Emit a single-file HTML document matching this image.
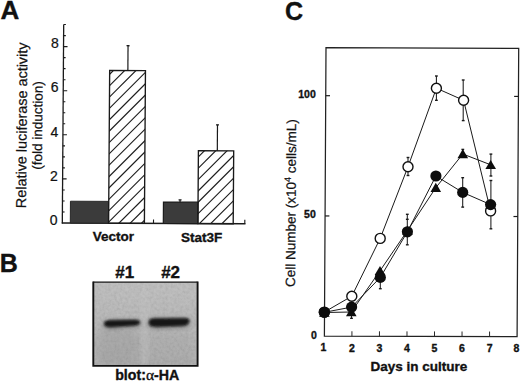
<!DOCTYPE html>
<html><head><meta charset="utf-8"><style>
html,body{margin:0;padding:0;background:#fff;width:520px;height:382px;overflow:hidden}
svg{display:block}
text{font-family:"Liberation Sans", sans-serif;fill:#111;stroke:#111;stroke-width:0.22px}
text[font-weight="bold"]{stroke-width:0.35px}
</style></head><body>
<svg width="520" height="382" viewBox="0 0 520 382">
<rect width="520" height="382" fill="#fff"/>
<line x1="63.69" y1="24.55" x2="62.3" y2="223.5" stroke="#1a1a1a" stroke-width="1.3"/>
<line x1="61.8" y1="223" x2="245.5" y2="223.77" stroke="#1a1a1a" stroke-width="1.4"/>
<line x1="62.38" y1="211.98" x2="64.58" y2="211.98" stroke="#1a1a1a" stroke-width="1.1"/>
<line x1="62.45" y1="200.95" x2="64.65" y2="200.96" stroke="#1a1a1a" stroke-width="1.1"/>
<line x1="62.53" y1="189.93" x2="64.73" y2="189.94" stroke="#1a1a1a" stroke-width="1.1"/>
<line x1="62.61" y1="178.9" x2="66.61" y2="178.92" stroke="#1a1a1a" stroke-width="1.1"/>
<line x1="62.68" y1="167.88" x2="64.88" y2="167.89" stroke="#1a1a1a" stroke-width="1.1"/>
<line x1="62.76" y1="156.85" x2="64.96" y2="156.86" stroke="#1a1a1a" stroke-width="1.1"/>
<line x1="62.84" y1="145.83" x2="65.04" y2="145.84" stroke="#1a1a1a" stroke-width="1.1"/>
<line x1="62.92" y1="134.8" x2="66.92" y2="134.82" stroke="#1a1a1a" stroke-width="1.1"/>
<line x1="62.99" y1="123.78" x2="65.19" y2="123.79" stroke="#1a1a1a" stroke-width="1.1"/>
<line x1="63.07" y1="112.75" x2="65.27" y2="112.76" stroke="#1a1a1a" stroke-width="1.1"/>
<line x1="63.15" y1="101.73" x2="65.35" y2="101.74" stroke="#1a1a1a" stroke-width="1.1"/>
<line x1="63.22" y1="90.7" x2="67.22" y2="90.72" stroke="#1a1a1a" stroke-width="1.1"/>
<line x1="63.3" y1="79.68" x2="65.5" y2="79.69" stroke="#1a1a1a" stroke-width="1.1"/>
<line x1="63.38" y1="68.65" x2="65.58" y2="68.66" stroke="#1a1a1a" stroke-width="1.1"/>
<line x1="63.45" y1="57.63" x2="65.65" y2="57.64" stroke="#1a1a1a" stroke-width="1.1"/>
<line x1="63.53" y1="46.6" x2="67.53" y2="46.62" stroke="#1a1a1a" stroke-width="1.1"/>
<line x1="63.61" y1="35.58" x2="65.81" y2="35.59" stroke="#1a1a1a" stroke-width="1.1"/>
<line x1="63.69" y1="24.55" x2="65.89" y2="24.56" stroke="#1a1a1a" stroke-width="1.1"/>
<line x1="153.5" y1="223.38" x2="153.53" y2="219.38" stroke="#1a1a1a" stroke-width="1.1"/>
<line x1="244.8" y1="223.76" x2="244.82" y2="219.76" stroke="#1a1a1a" stroke-width="1.1"/>
<text x="57.59" y="224.78" font-size="14" text-anchor="end">0</text>
<text x="57.9" y="180.68" font-size="14" text-anchor="end">2</text>
<text x="58.2" y="136.58" font-size="14" text-anchor="end">4</text>
<text x="58.51" y="92.48" font-size="14" text-anchor="end">6</text>
<text x="58.82" y="48.38" font-size="14" text-anchor="end">8</text>
<polygon points="70.45,201.23 108.55,201.39 108.4,223.19 70.3,223.03" fill="#3b3b3b" stroke="#262626" stroke-width="1"/>
<polygon points="163.45,202.02 198.05,202.17 197.9,223.57 163.3,223.42" fill="#3b3b3b" stroke="#1a1a1a" stroke-width="1.2"/>
<clipPath id="h1"><polygon points="109.67,70.4 145.46,70.55 144.4,223.34 108.6,223.19" /></clipPath>
<g clip-path="url(#h1)" stroke="#1a1a1a" stroke-width="1.15">
<line x1="131.3" y1="30" x2="-78.7" y2="240" />
<line x1="142.6" y1="30" x2="-67.4" y2="240" />
<line x1="153.9" y1="30" x2="-56.1" y2="240" />
<line x1="165.2" y1="30" x2="-44.8" y2="240" />
<line x1="176.5" y1="30" x2="-33.5" y2="240" />
<line x1="187.8" y1="30" x2="-22.2" y2="240" />
<line x1="199.1" y1="30" x2="-10.9" y2="240" />
<line x1="210.4" y1="30" x2="0.4" y2="240" />
<line x1="221.7" y1="30" x2="11.7" y2="240" />
<line x1="233" y1="30" x2="23" y2="240" />
<line x1="244.3" y1="30" x2="34.3" y2="240" />
<line x1="255.6" y1="30" x2="45.6" y2="240" />
<line x1="266.9" y1="30" x2="56.9" y2="240" />
<line x1="278.2" y1="30" x2="68.2" y2="240" />
<line x1="289.5" y1="30" x2="79.5" y2="240" />
<line x1="300.8" y1="30" x2="90.8" y2="240" />
<line x1="312.1" y1="30" x2="102.1" y2="240" />
<line x1="323.4" y1="30" x2="113.4" y2="240" />
<line x1="334.7" y1="30" x2="124.7" y2="240" />
<line x1="346" y1="30" x2="136" y2="240" />
<line x1="357.3" y1="30" x2="147.3" y2="240" />
</g>
<polygon points="109.67,70.4 145.46,70.55 144.4,223.34 108.6,223.19" fill="none" stroke="#1a1a1a" stroke-width="1.35"/>
<clipPath id="h2"><polygon points="198.41,150.67 233.7,150.82 233.2,223.72 197.9,223.57" /></clipPath>
<g clip-path="url(#h2)" stroke="#1a1a1a" stroke-width="1.15">
<line x1="302.6" y1="30" x2="92.6" y2="240" />
<line x1="313.9" y1="30" x2="103.9" y2="240" />
<line x1="325.2" y1="30" x2="115.2" y2="240" />
<line x1="336.5" y1="30" x2="126.5" y2="240" />
<line x1="347.8" y1="30" x2="137.8" y2="240" />
<line x1="359.1" y1="30" x2="149.1" y2="240" />
<line x1="370.4" y1="30" x2="160.4" y2="240" />
<line x1="381.7" y1="30" x2="171.7" y2="240" />
<line x1="393" y1="30" x2="183" y2="240" />
<line x1="404.3" y1="30" x2="194.3" y2="240" />
<line x1="415.6" y1="30" x2="205.6" y2="240" />
<line x1="426.9" y1="30" x2="216.9" y2="240" />
<line x1="438.2" y1="30" x2="228.2" y2="240" />
</g>
<polygon points="198.41,150.67 233.7,150.82 233.2,223.72 197.9,223.57" fill="none" stroke="#1a1a1a" stroke-width="1.35"/>
<line x1="127.87" y1="70.47" x2="128.04" y2="45.67" stroke="#1a1a1a" stroke-width="1.2"/>
<line x1="126.54" y1="45.67" x2="129.54" y2="45.68" stroke="#1a1a1a" stroke-width="1.4"/>
<line x1="217.31" y1="150.75" x2="217.49" y2="124.85" stroke="#1a1a1a" stroke-width="1.2"/>
<line x1="215.99" y1="124.84" x2="218.99" y2="124.86" stroke="#1a1a1a" stroke-width="1.4"/>
<line x1="180.05" y1="202.19" x2="180.06" y2="199.89" stroke="#1a1a1a" stroke-width="1.2"/>
<line x1="178.56" y1="199.89" x2="181.56" y2="199.9" stroke="#1a1a1a" stroke-width="1.4"/>
<text transform="translate(26.7,125.35) rotate(-89.5)" font-size="14.4" text-anchor="middle">Relative luciferase activity</text>
<text transform="translate(42.2,125.5) rotate(-89.5)" font-size="13.5" text-anchor="middle">(fold induction)</text>
<text x="113.3" y="241.3" font-size="13.5" font-weight="bold" text-anchor="middle">Vector</text>
<text x="201.7" y="241.7" font-size="13.5" font-weight="bold" text-anchor="middle">Stat3F</text>
<text transform="translate(0.5,18.5) scale(1.04,1)" font-size="25" font-weight="bold">A</text>
<text x="-0.3" y="272.1" font-size="25" font-weight="bold">B</text>
<text x="285.1" y="19.6" font-size="25" font-weight="bold">C</text>
<text x="124.8" y="277.9" font-size="17" font-weight="bold" text-anchor="middle" stroke="#111" stroke-width="0.35">#1</text>
<text x="170.6" y="277.9" font-size="17" font-weight="bold" text-anchor="middle" stroke="#111" stroke-width="0.35">#2</text>
<defs>
<linearGradient id="blotbg" x1="0" y1="0" x2="0" y2="1">
<stop offset="0" stop-color="#bcbcbc"/><stop offset="0.45" stop-color="#b4b4b4"/><stop offset="1" stop-color="#aaaaaa"/>
</linearGradient>
<filter id="blur1" x="-20%" y="-50%" width="140%" height="200%"><feGaussianBlur stdDeviation="1.0 0.9"/></filter>
<filter id="blur2" x="-20%" y="-80%" width="140%" height="260%"><feGaussianBlur stdDeviation="1.6 1.4"/></filter>
<filter id="blur3" x="-30%" y="-100%" width="160%" height="300%"><feGaussianBlur stdDeviation="2.6 2.2"/></filter>
<filter id="noise" x="0" y="0" width="100%" height="100%">
<feTurbulence type="fractalNoise" baseFrequency="0.35" numOctaves="2" seed="3" result="t"/>
<feColorMatrix type="matrix" values="1 0 0 0 0  1 0 0 0 0  1 0 0 0 0  0 0 0 0 1" />
</filter>
</defs>
<clipPath id="blotclip"><rect x="93.3" y="282.3" width="104.2" height="83.5"/></clipPath>
<g clip-path="url(#blotclip)">
<rect x="93.3" y="282.3" width="104.2" height="83.5" fill="url(#blotbg)"/>
<rect x="93.3" y="282.3" width="104.2" height="83.5" filter="url(#noise)" opacity="0.13"/>
<rect x="140.5" y="290" width="8" height="74" fill="#c8c8c8" opacity="0.25" filter="url(#blur2)"/>
<ellipse cx="115" cy="345" rx="22" ry="16" fill="#9a9a9a" opacity="0.18" filter="url(#blur3)"/>
<rect x="101" y="331" width="40" height="40" fill="#8a8a8a" opacity="0.14" filter="url(#blur3)"/>
<rect x="149" y="333" width="42" height="40" fill="#8a8a8a" opacity="0.10" filter="url(#blur3)"/>
<g filter="url(#blur3)" opacity="0.5">
<path d="M104.5,323.8 C104.5,321.3 107,320.7 112,320.6 L134,320.2 C138,320.1 139.8,320.8 139.6,322.3 C139.4,324 137.5,324.9 134,325.3 L112,326.7 C107,327 104.5,326.3 104.5,323.8 Z" fill="#666" stroke="#666" stroke-width="3" transform="translate(0,1.3)"/>
<path d="M149.2,322.3 C149.2,319.5 151,318.9 156,318.8 L183,318.6 C187.5,318.6 189,319.2 188.9,320.8 C188.8,323.6 187,325.0 183,325.5 L157,326.4 C151,326.5 149.2,325.5 149.2,322.3 Z" fill="#666" stroke="#666" stroke-width="3" transform="translate(0,1.3)"/>
</g>
<g filter="url(#blur2)" opacity="0.6">
<path d="M104.5,323.8 C104.5,321.3 107,320.7 112,320.6 L134,320.2 C138,320.1 139.8,320.8 139.6,322.3 C139.4,324 137.5,324.9 134,325.3 L112,326.7 C107,327 104.5,326.3 104.5,323.8 Z" fill="#444" stroke="#444" stroke-width="1.5"/>
<path d="M149.2,322.3 C149.2,319.5 151,318.9 156,318.8 L183,318.6 C187.5,318.6 189,319.2 188.9,320.8 C188.8,323.6 187,325.0 183,325.5 L157,326.4 C151,326.5 149.2,325.5 149.2,322.3 Z" fill="#444" stroke="#444" stroke-width="1.5"/>
</g>
<g filter="url(#blur1)">
<path d="M104.5,323.8 C104.5,321.3 107,320.7 112,320.6 L134,320.2 C138,320.1 139.8,320.8 139.6,322.3 C139.4,324 137.5,324.9 134,325.3 L112,326.7 C107,327 104.5,326.3 104.5,323.8 Z" fill="#161616"/>
<path d="M149.2,322.3 C149.2,319.5 151,318.9 156,318.8 L183,318.6 C187.5,318.6 189,319.2 188.9,320.8 C188.8,323.6 187,325.0 183,325.5 L157,326.4 C151,326.5 149.2,325.5 149.2,322.3 Z" fill="#121212"/>
</g>
</g>
<path d="M93.3,282.1 L197.5,282.1" stroke="#111" stroke-width="1.4" fill="none"/>
<path d="M93.3,281.6 L93.3,365.9 L197.6,365.9 L197.6,281.6" stroke="#111" stroke-width="1.9" fill="none"/>
<text x="147.2" y="380.2" font-size="14.2" font-weight="bold" text-anchor="middle">blot:<tspan font-family="Liberation Serif" font-weight="normal" font-size="15.5">α</tspan>-HA</text>
<polygon points="326,47.6 518.7,48.4 517.1,336.6 324.4,336.2" fill="none" stroke="#222" stroke-width="1.25"/>
<line x1="325.07" y1="215.95" x2="329.37" y2="215.95" stroke="#1a1a1a" stroke-width="1.2"/>
<line x1="517.77" y1="216.52" x2="513.47" y2="216.52" stroke="#1a1a1a" stroke-width="1.2"/>
<line x1="325.73" y1="95.7" x2="330.03" y2="95.7" stroke="#1a1a1a" stroke-width="1.2"/>
<line x1="518.43" y1="96.43" x2="514.13" y2="96.43" stroke="#1a1a1a" stroke-width="1.2"/>
<line x1="351.93" y1="336.26" x2="351.93" y2="331.26" stroke="#2a2a2a" stroke-width="1.0"/>
<text x="351.93" y="351.6" font-size="10.5" font-weight="bold" text-anchor="middle">2</text>
<line x1="379.46" y1="336.31" x2="379.46" y2="331.31" stroke="#2a2a2a" stroke-width="1.0"/>
<text x="379.46" y="351.6" font-size="10.5" font-weight="bold" text-anchor="middle">3</text>
<line x1="406.99" y1="336.37" x2="406.99" y2="331.37" stroke="#2a2a2a" stroke-width="1.0"/>
<text x="406.99" y="351.6" font-size="10.5" font-weight="bold" text-anchor="middle">4</text>
<line x1="434.51" y1="336.43" x2="434.51" y2="331.43" stroke="#2a2a2a" stroke-width="1.0"/>
<text x="434.51" y="351.6" font-size="10.5" font-weight="bold" text-anchor="middle">5</text>
<line x1="462.04" y1="336.49" x2="462.04" y2="331.49" stroke="#2a2a2a" stroke-width="1.0"/>
<text x="462.04" y="351.6" font-size="10.5" font-weight="bold" text-anchor="middle">6</text>
<line x1="489.57" y1="336.54" x2="489.57" y2="331.54" stroke="#2a2a2a" stroke-width="1.0"/>
<text x="489.57" y="351.6" font-size="10.5" font-weight="bold" text-anchor="middle">7</text>
<text x="323.3" y="351.4" font-size="10.5" font-weight="bold" text-anchor="middle">1</text>
<text x="516.3" y="351.8" font-size="10.5" font-weight="bold" text-anchor="middle">8</text>
<text x="315.8" y="97.8" font-size="10.5" font-weight="bold" text-anchor="end">100</text>
<text x="315.8" y="218.2" font-size="10.5" font-weight="bold" text-anchor="end">50</text>
<text x="316.8" y="338.9" font-size="10.5" font-weight="bold" text-anchor="end">0</text>
<text transform="translate(295.6,203.2) rotate(-89.6)" font-size="13.5" text-anchor="middle">Cell Number (x10<tspan font-size="9" dy="-5">4</tspan><tspan dy="5"> cells/mL)</tspan></text>
<text x="418.8" y="370.8" font-size="13.5" font-weight="bold" text-anchor="middle">Days in culture</text>
<line x1="351.5" y1="312" x2="351.5" y2="318.3" stroke="#1a1a1a" stroke-width="1.05"/>
<line x1="350.1" y1="318.3" x2="352.9" y2="318.3" stroke="#1a1a1a" stroke-width="1.4"/>
<line x1="380.3" y1="277" x2="380.3" y2="288.7" stroke="#1a1a1a" stroke-width="1.05"/>
<line x1="378.9" y1="288.7" x2="381.7" y2="288.7" stroke="#1a1a1a" stroke-width="1.4"/>
<line x1="408" y1="157.5" x2="408" y2="175.5" stroke="#1a1a1a" stroke-width="1.05"/>
<line x1="406.6" y1="157.5" x2="409.4" y2="157.5" stroke="#1a1a1a" stroke-width="1.4"/>
<line x1="406.6" y1="175.5" x2="409.4" y2="175.5" stroke="#1a1a1a" stroke-width="1.4"/>
<line x1="407.3" y1="214.3" x2="407.3" y2="244.8" stroke="#1a1a1a" stroke-width="1.05"/>
<line x1="405.9" y1="214.3" x2="408.7" y2="214.3" stroke="#1a1a1a" stroke-width="1.4"/>
<line x1="405.9" y1="244.8" x2="408.7" y2="244.8" stroke="#1a1a1a" stroke-width="1.4"/>
<line x1="407.3" y1="219.3" x2="407.3" y2="219.3" stroke="#1a1a1a" stroke-width="1.05"/>
<line x1="405.9" y1="219.3" x2="408.7" y2="219.3" stroke="#1a1a1a" stroke-width="1.4"/>
<line x1="436.4" y1="76" x2="436.4" y2="100.3" stroke="#1a1a1a" stroke-width="1.05"/>
<line x1="435" y1="76" x2="437.8" y2="76" stroke="#1a1a1a" stroke-width="1.4"/>
<line x1="435" y1="100.3" x2="437.8" y2="100.3" stroke="#1a1a1a" stroke-width="1.4"/>
<line x1="463.2" y1="80" x2="463.2" y2="120.6" stroke="#1a1a1a" stroke-width="1.05"/>
<line x1="461.8" y1="80" x2="464.6" y2="80" stroke="#1a1a1a" stroke-width="1.4"/>
<line x1="461.8" y1="120.6" x2="464.6" y2="120.6" stroke="#1a1a1a" stroke-width="1.4"/>
<line x1="462.7" y1="177.7" x2="462.7" y2="207.1" stroke="#1a1a1a" stroke-width="1.05"/>
<line x1="461.3" y1="177.7" x2="464.1" y2="177.7" stroke="#1a1a1a" stroke-width="1.4"/>
<line x1="461.3" y1="207.1" x2="464.1" y2="207.1" stroke="#1a1a1a" stroke-width="1.4"/>
<line x1="462.8" y1="149.4" x2="462.8" y2="154" stroke="#1a1a1a" stroke-width="1.05"/>
<line x1="461.4" y1="149.4" x2="464.2" y2="149.4" stroke="#1a1a1a" stroke-width="1.4"/>
<line x1="490.9" y1="154.1" x2="490.9" y2="176" stroke="#1a1a1a" stroke-width="1.05"/>
<line x1="489.5" y1="154.1" x2="492.3" y2="154.1" stroke="#1a1a1a" stroke-width="1.4"/>
<line x1="489.5" y1="176" x2="492.3" y2="176" stroke="#1a1a1a" stroke-width="1.4"/>
<line x1="490.9" y1="180.5" x2="490.9" y2="228.8" stroke="#1a1a1a" stroke-width="1.05"/>
<line x1="489.5" y1="180.5" x2="492.3" y2="180.5" stroke="#1a1a1a" stroke-width="1.4"/>
<line x1="489.5" y1="228.8" x2="492.3" y2="228.8" stroke="#1a1a1a" stroke-width="1.4"/>
<polyline points="324.4,312.5 351.3,312 380,270.8 407.5,230.5 435.8,187.7 462.8,154 490.7,164.8" fill="none" stroke="#1a1a1a" stroke-width="1.0"/>
<polyline points="324.4,312.3 351.6,307.1 380.3,277.4 407.4,231.8 435.9,176 462.7,192.4 490.6,204.6" fill="none" stroke="#1a1a1a" stroke-width="1.0"/>
<polyline points="324.3,312.1 351.8,296.2 380.2,238.4 408,166.7 436.4,88.2 463.6,100.3 490.6,210.9" fill="none" stroke="#1a1a1a" stroke-width="1.0"/>
<circle cx="324.3" cy="312.1" r="5.0" fill="#fff" stroke="#111" stroke-width="1.4"/>
<circle cx="351.8" cy="296.2" r="5.0" fill="#fff" stroke="#111" stroke-width="1.4"/>
<circle cx="380.2" cy="238.4" r="5.0" fill="#fff" stroke="#111" stroke-width="1.4"/>
<circle cx="408" cy="166.7" r="5.0" fill="#fff" stroke="#111" stroke-width="1.4"/>
<circle cx="436.4" cy="88.2" r="5.0" fill="#fff" stroke="#111" stroke-width="1.4"/>
<circle cx="463.6" cy="100.3" r="5.0" fill="#fff" stroke="#111" stroke-width="1.4"/>
<circle cx="490.6" cy="210.9" r="5.0" fill="#fff" stroke="#111" stroke-width="1.4"/>
<polygon points="324.4,307.6 329.7,316.8 319.1,316.8" fill="#0d0d0d"/>
<polygon points="351.3,307.1 356.6,316.3 346,316.3" fill="#0d0d0d"/>
<polygon points="380,265.9 385.3,275.1 374.7,275.1" fill="#0d0d0d"/>
<polygon points="407.5,225.6 412.8,234.8 402.2,234.8" fill="#0d0d0d"/>
<polygon points="435.8,182.8 441.1,192 430.5,192" fill="#0d0d0d"/>
<polygon points="462.8,149.1 468.1,158.3 457.5,158.3" fill="#0d0d0d"/>
<polygon points="490.7,159.9 496,169.1 485.4,169.1" fill="#0d0d0d"/>
<circle cx="324.4" cy="312.3" r="5.6" fill="#0d0d0d"/>
<circle cx="351.6" cy="307.1" r="5.6" fill="#0d0d0d"/>
<circle cx="380.3" cy="277.4" r="5.6" fill="#0d0d0d"/>
<circle cx="407.4" cy="231.8" r="5.6" fill="#0d0d0d"/>
<circle cx="435.9" cy="176" r="5.6" fill="#0d0d0d"/>
<circle cx="462.7" cy="192.4" r="5.6" fill="#0d0d0d"/>
<circle cx="490.6" cy="204.6" r="5.6" fill="#0d0d0d"/>
</svg>
</body></html>
